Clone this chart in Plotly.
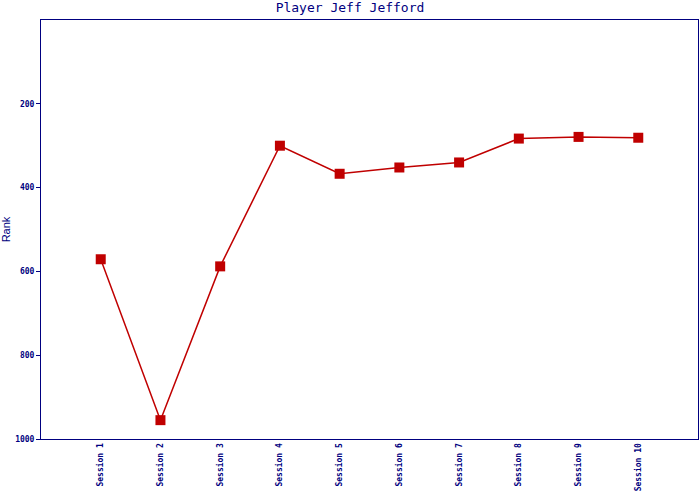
import plotly.graph_objects as go

sessions = ["Session 1", "Session 2", "Session 3", "Session 4", "Session 5",
            "Session 6", "Session 7", "Session 8", "Session 9", "Session 10"]
ranks = [571, 955, 588, 300, 367, 352, 340, 283, 279, 281]
y_ticks = [200, 400, 600, 800, 1000]

navy = "#000080"
red = "#c00000"

fig = go.Figure()
fig.add_trace(go.Scatter(
    x=sessions, y=ranks, mode="lines+markers",
    line=dict(color=red, width=1.5),
    marker=dict(symbol="square", size=10, color=red),
    showlegend=False,
))

fig.update_layout(
    width=700, height=500,
    margin=dict(l=41, r=1, t=20, b=61),
    paper_bgcolor="white", plot_bgcolor="white",
    title=dict(text="Player Jeff Jefford", x=0.5, xanchor="center", y=0.985, yanchor="middle",
               font=dict(family="DejaVu Sans Mono", size=13, color=navy)),
    xaxis=dict(
        type="category", range=[-1, 10],
        showgrid=False, zeroline=False,
        showline=True, linecolor=navy, linewidth=1, mirror=True,
        tickangle=-90, ticks="",
        tickfont=dict(family="DejaVu Sans Mono", size=8, color=navy, weight="bold"),
    ),
    yaxis=dict(
        range=[1000, 0], tickvals=y_ticks,
        showgrid=False, zeroline=False,
        showline=True, linecolor=navy, linewidth=1, mirror=True,
        ticks="outside", ticklen=4, tickcolor=navy,
        tickfont=dict(family="DejaVu Sans Mono", size=8, color=navy, weight="bold"),
        title=dict(text="Rank", standoff=4,
                   font=dict(family="Liberation Sans", size=11, color=navy)),
    ),
)

post = ("document.body.style.margin='0';document.body.style.overflow='hidden';"
        "var gd=document.getElementById('{plot_id}');"
        "Plotly.relayout(gd,{width:700,height:500});")
fig.write_html("out.html", post_script=post, config={"displayModeBar": False})
